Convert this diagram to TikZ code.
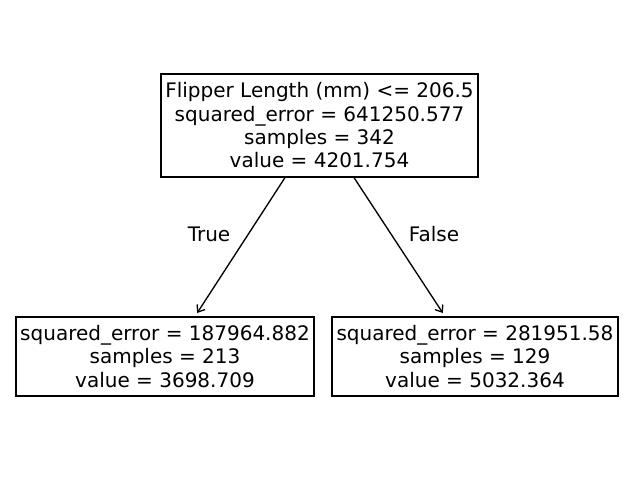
\documentclass[tikz,border=0pt]{standalone}
\usepackage{fontspec}
\setmainfont{DejaVu Sans}
\usetikzlibrary{arrows.meta}
\tikzset{
  treebox/.style={draw=black, line width=1pt, fill=white, align=center, inner sep=0pt,
    font=\fontsize{15}{17.5}\selectfont},
  edge/.style={line width=1pt, -{Straight Barb[length=4.5pt,width=7pt]}},
  edgelabel/.style={font=\fontsize{15}{17}\selectfont}
}
\begin{document}
\begin{tikzpicture}[x=0.75pt,y=-0.75pt]
\useasboundingbox (0,0) rectangle (640,482);
\node[treebox, minimum width=237.75pt, minimum height=77.25pt] (root) at (319.5,125.5)
  {Flipper Length (mm) <= 206.5\\squared\_error = 641250.577\\samples = 342\\value = 4201.754};
\node[treebox, minimum width=223.5pt, minimum height=59.25pt] (left) at (165,356.5)
  {squared\_error = 187964.882\\samples = 213\\value = 3698.709};
\node[treebox, minimum width=214.5pt, minimum height=59.25pt] (right) at (475,356.5)
  {squared\_error = 281951.58\\samples = 129\\value = 5032.364};
\draw[edge, shorten >=3pt] ([xshift=-25.9pt]root.south) -- ([xshift=22.5pt]left.north);
\draw[edge, shorten >=3pt] ([xshift=25.9pt]root.south) -- ([xshift=-22.5pt]right.north);
\node[edgelabel] (t) at (209,234) {True};
\node[edgelabel] (f) at (434,234) {False};
\end{tikzpicture}
\end{document}
